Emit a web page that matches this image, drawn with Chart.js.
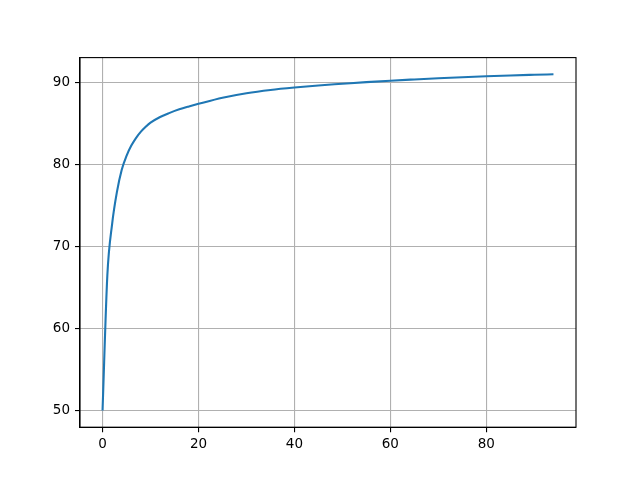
<!DOCTYPE html>
<html>
<head>
<meta charset="utf-8">
<script src="https://cdn.jsdelivr.net/npm/chart.js@4"></script>
<style>
  body { margin: 0; background: #fff; }
  canvas { display: block; }
</style>
</head>
<body>
<canvas id="myChart" width="640" height="480"></canvas>
<script>
// values
const xWerte = [0, 1, 2, 3, 4, 5, 6, 7, 8, 9, 10, 12, 14, 16, 18, 20, 25, 30, 35, 40, 45, 50, 55, 60, 65, 70, 75, 80, 85, 90, 94];
const yWerte = [50, 66.5, 72.8, 76.7, 79.4, 81.1, 82.35, 83.3, 84.05, 84.65, 85.15, 85.85, 86.35, 86.78, 87.13, 87.45, 88.2, 88.75, 89.15, 89.45, 89.7, 89.9, 90.1, 90.28, 90.43, 90.57, 90.7, 90.82, 90.92, 91.0, 91.06];
const xTicks = [0, 20, 40, 60, 80];
const yTicks = [50, 60, 70, 80, 90];

let myChart = document.querySelector("#myChart");

const punkte = xWerte.map((x, i) => ({ x: x, y: yWerte[i] }));

// Rahmen oben und rechts (matplotlib style box)
const rahmen = {
  id: 'rahmen',
  afterDraw(chart) {
    const a = chart.chartArea;
    const ctx = chart.ctx;
    ctx.save();
    ctx.strokeStyle = '#000';
    ctx.lineWidth = 1.1;
    ctx.strokeRect(a.left, a.top, a.right - a.left, a.bottom - a.top);
    ctx.restore();
  }
};

const config = {
  type: 'line',
  data: {
    datasets: [{
      data: punkte,
      borderColor: '#1f77b4',
      borderWidth: 2.1,
      pointRadius: 0,
      fill: false,
      cubicInterpolationMode: 'monotone'
    }]
  },
  options: {
    responsive: false,
    animation: false,
    devicePixelRatio: 1,
    layout: { padding: { left: 0, top: 57.6, right: 64, bottom: 0 } },
    plugins: {
      legend: { display: false },
      tooltip: { enabled: false }
    },
    scales: {
      x: {
        type: 'linear',
        min: -4.7,
        max: 98.7,
        afterBuildTicks: s => { s.ticks = xTicks.map(v => ({ value: v })); },
        afterFit: s => { s.height = 52.8; },
        grid: { color: '#b0b0b0', lineWidth: 1.1, tickColor: '#000', tickLength: 5 },
        border: { color: '#000', width: 1.1 },
        ticks: { color: '#000', padding: 4, font: { family: 'DejaVu Sans', size: 13.5 } }
      },
      y: {
        type: 'linear',
        min: 47.95,
        max: 93.1,
        afterBuildTicks: s => { s.ticks = yTicks.map(v => ({ value: v })); },
        afterFit: s => { s.width = 80; },
        grid: { color: '#b0b0b0', lineWidth: 1.1, tickColor: '#000', tickLength: 5 },
        border: { color: '#000', width: 1.1 },
        ticks: { color: '#000', padding: 5, font: { family: 'DejaVu Sans', size: 13.5 } }
      }
    }
  },
  plugins: [rahmen]
};

const chart = new Chart(myChart, config);
</script>
</body>
</html>
